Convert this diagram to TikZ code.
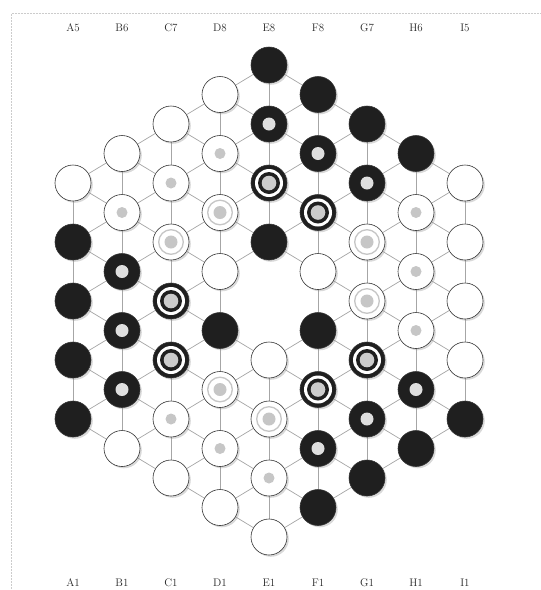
\documentclass[tikz,border=0pt]{standalone}
\usetikzlibrary{shadows,backgrounds}
\newcommand\bedge[4]{\ifnum#1#2=44 \else\ifnum#3#4=44 \else\draw[edge] (p-#1-#2) -- (p-#3-#4);\fi\fi}
\begin{document}
\begin{tikzpicture}[x=1pt,y=-1pt,
  edge/.style={draw=gray!70, line width=0.7pt},
  piece/.style={circle, minimum size=36pt, inner sep=0pt, line width=0.6pt, draw=black!80,
     drop shadow={shadow xshift=1.8pt, shadow yshift=-1.8pt, opacity=0.3, fill=gray}},
  pW/.style={piece, fill=white},
  pB/.style={piece, fill=black!88},
  pWD/.style={pW, path picture={\fill[gray!45] (path picture bounding box.center) circle (5.5pt);}},
  pBD/.style={pB, path picture={\fill[gray!25] (path picture bounding box.center) circle (6.5pt);}},
  pLR/.style={pW, path picture={\draw[gray!45, line width=1.3pt] (path picture bounding box.center) circle (12.3pt);
      \fill[gray!45] (path picture bounding box.center) circle (6.5pt);}},
  pDR/.style={pB, path picture={\fill[white] (path picture bounding box.center) circle (14pt);
      \fill[black!88] (path picture bounding box.center) circle (11pt);
      \fill[gray!40] (path picture bounding box.center) circle (7.3pt);}},
  pX/.style={shape=coordinate},
  lab/.style={font=\fontsize{11}{13}\selectfont, text=black!85},
  frame/.style={draw=gray!40, line width=0.5pt, densely dotted}]
\useasboundingbox (0,0) rectangle (541,590);
\draw[frame] (11,590) -- (11,13) -- (541,13);
% labels
\foreach \i/\a/\b in {0/A5/A1,1/B6/B1,2/C7/C1,3/D8/D1,4/E8/E1,5/F8/F1,6/G7/G1,7/H6/H1,8/I5/I1}{
  \node[lab] (lt-\i) at ({73+49*\i},28) {\a};
  \node[lab] (lb-\i) at ({73+49*\i},583) {\b};
}
% pieces (each column listed from bottom to top)
\foreach \i/\lst in {
  0/{pB,pB,pB,pB,pW},
  1/{pW,pBD,pBD,pBD,pWD,pW},
  2/{pW,pWD,pDR,pDR,pLR,pWD,pW},
  3/{pW,pWD,pLR,pB,pW,pLR,pWD,pW},
  4/{pW,pWD,pLR,pW,pX,pB,pDR,pBD,pB},
  5/{pB,pBD,pDR,pB,pW,pDR,pBD,pB},
  6/{pB,pBD,pDR,pLR,pLR,pBD,pB},
  7/{pB,pBD,pWD,pWD,pWD,pB},
  8/{pB,pW,pW,pW,pW}}{
  \pgfmathsetmacro\n{9-abs(\i-4)}
  \foreach \t [count=\k from 0] in \lst {
    \node[\t] (p-\i-\k) at ({73+49*\i},{301+((\n-1)/2-\k)*59}) {};
  }
}
% connectors
\begin{scope}[on background layer]
\foreach \i in {0,...,8}{
  \pgfmathtruncatemacro\nn{9-abs(\i-4)-2}
  \foreach \k in {0,...,\nn}{
    \pgfmathtruncatemacro\kk{\k+1}
    \bedge{\i}{\k}{\i}{\kk}
  }
}
\foreach \i in {0,...,3}{
  \pgfmathtruncatemacro\j{\i+1}
  \pgfmathtruncatemacro\nn{9-abs(\i-4)-1}
  \foreach \k in {0,...,\nn}{
    \pgfmathtruncatemacro\kk{\k+1}
    \bedge{\i}{\k}{\j}{\k}
    \bedge{\i}{\k}{\j}{\kk}
  }
}
\foreach \i in {4,...,7}{
  \pgfmathtruncatemacro\j{\i+1}
  \pgfmathtruncatemacro\nn{9-abs(\j-4)-1}
  \foreach \k in {0,...,\nn}{
    \pgfmathtruncatemacro\kk{\k+1}
    \bedge{\j}{\k}{\i}{\k}
    \bedge{\j}{\k}{\i}{\kk}
  }
}
\end{scope}
\end{tikzpicture}
\end{document}
